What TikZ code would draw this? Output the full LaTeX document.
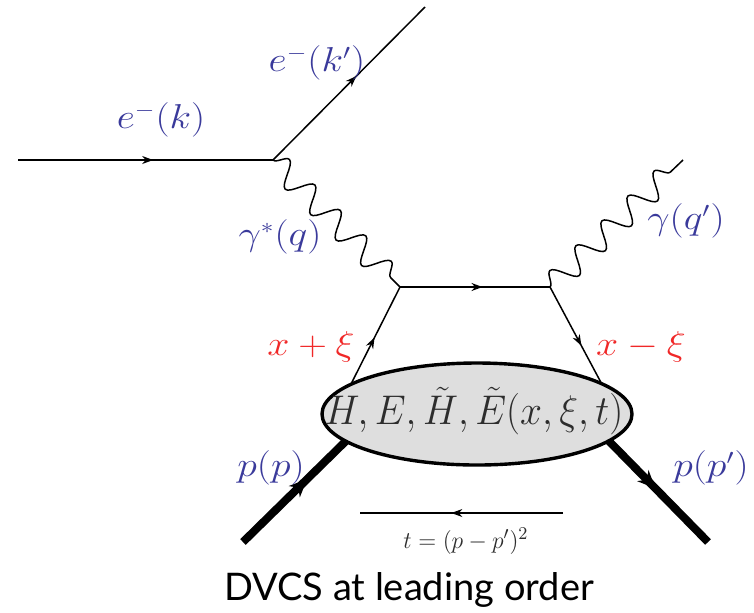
\documentclass[tikz,border=0pt]{standalone}
\usepackage{fontspec}
\newfontfamily\captionfont{Lato}
\usetikzlibrary{arrows.meta,positioning,shapes.geometric,decorations.pathmorphing,decorations.markings}
\definecolor{lblblue}{RGB}{58,58,155}
\definecolor{lblred}{RGB}{240,40,40}
\definecolor{blobgray}{RGB}{222,222,222}
\definecolor{textgray}{RGB}{45,45,45}

\begin{document}
\begin{tikzpicture}[x=0.5pt,y=-0.5pt,
  fermion/.style={line width=0.75pt,postaction={decorate},
    decoration={markings,mark=at position #1 with {\arrow{Stealth[length=5.5pt,width=4pt]}}}},
  fermion/.default=0.55,
  proton/.style={line width=4pt,postaction={decorate},
    decoration={markings,mark=at position #1 with {\arrow{Stealth[length=9pt,width=8pt,line width=0pt]}}}},
  photon/.style={line width=0.75pt,decorate,
    decoration={snake,amplitude=6pt,segment length=18pt}},
  lab/.style={text=lblblue,font=\fontsize{16}{19}\selectfont,xscale=1.15,inner sep=0pt},
  mom/.style={lab,text=lblred},
  blob/.style={ellipse,draw,line width=1.7pt,fill=blobgray,
    minimum width=155pt,minimum height=51pt,inner sep=0pt}]
\useasboundingbox (0,0) rectangle (754,612);
% vertices and free ends
\coordinate (ein) at (18,160);
\coordinate (v1) at (273,160);
\coordinate (eout) at (425,7);
\coordinate (v2) at (400,287);
\coordinate (v3) at (550,287);
\coordinate (gout) at (683,160);
\coordinate (qin) at (349,388);
\coordinate (qout) at (605,390);
\coordinate (pin) at (243,542);
\coordinate (pinend) at (350,437);
\coordinate (poutstart) at (603,435);
\coordinate (pout) at (708,542);
\coordinate (tright) at (563,513);
\coordinate (tleft) at (360,513);
% lepton side
\draw[fermion=0.53] (ein) -- (v1);
\draw[fermion=0.55] (v1) -- (eout);
\draw[photon] (v1) -- (v2);
% handbag
\draw[fermion=0.55] (v2) -- (v3);
\draw[photon] (v3) -- (gout);
\draw[fermion=0.5] (qin) -- (v2);
\draw[fermion=0.57] (v3) -- (qout);
\draw[proton=0.6] (pin) -- (pinend);
\draw[proton=0.5] (poutstart) -- (pout);
\node[blob] (gpd) at (477,414) {};
\node[text=textgray,font=\fontsize{19.5}{22}\selectfont,xscale=0.95,inner sep=0pt] (gpdlabel) at (474,411)
  {$H,E,\tilde{H},\tilde{E}(x,\xi,t)$};
% momentum transfer
\draw[fermion=0.55] (tright) -- (tleft);
\node[text=textgray,font=\fontsize{12.5}{15}\selectfont,xscale=0.98,inner sep=0pt] (tlabel) at (466,541)
  {$t=(p-p')^2$};
% labels
\node[lab] (ek) at (161,120) {$e^-(k)$};
\node[lab] (ekp) at (317,63) {$e^-(k')$};
\node[lab] (gstar) at (280,237) {$\gamma^*(q)$};
\node[lab] (gq) at (686,221) {$\gamma(q')$};
\node[mom] (xplus) at (311,347) {$x+\xi$};
\node[mom] (xminus) at (641,347) {$x-\xi$};
\node[lab] (pp) at (271,468) {$p(p)$};
\node[lab] (ppp) at (711,468) {$p(p')$};
\node[font=\captionfont\fontsize{19}{22}\selectfont,anchor=base,inner sep=0pt] (caption) at (409,600)
  {DVCS at leading order};
\end{tikzpicture}
\end{document}
